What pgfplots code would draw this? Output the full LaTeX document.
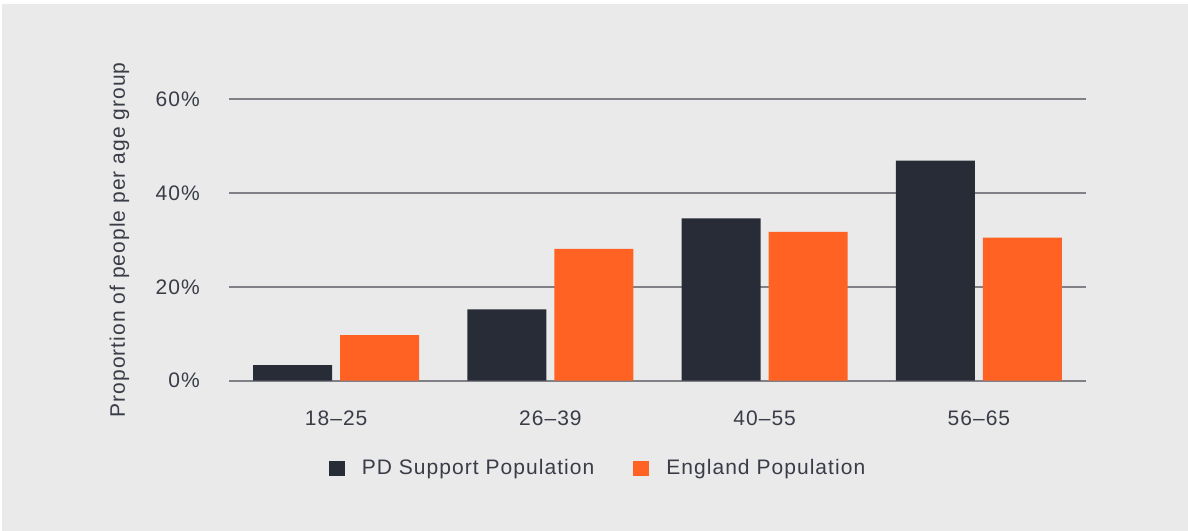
\documentclass[border=0pt]{standalone}
\usepackage{pgfplots}
\pgfplotsset{compat=1.18}
\usepackage{fontspec}
\setmainfont[LetterSpace=5]{Liberation Sans}
\definecolor{bg}{HTML}{EAEAEA}
\definecolor{pdnavy}{HTML}{282C37}
\definecolor{engorange}{HTML}{FF6222}
\definecolor{txt}{HTML}{3A3D47}
\definecolor{gridc}{HTML}{808186}

\begin{document}
\fontsize{21bp}{25bp}\selectfont
\begin{tikzpicture}[x=1bp,y=1bp]
% panel background
\fill[white] (0,0) rectangle (1188,-531);
\fill[bg] (2,-4) rectangle (1188,-531);
\begin{axis}[
  at={(229bp,-380.7bp)}, anchor=south west,
  scale only axis, width=857bp, height=281.7bp,
  ybar=8bp, bar width=79bp,
  xmin=-0.5, xmax=3.5, ymin=0, ymax=60,
  clip=false,
  axis lines=left, axis line style={draw=none},
  major tick length=0pt,
  ymajorgrids, grid style={gridc, line width=1.6bp},
  ytick={0,20,40,60}, yticklabels={0\%,20\%,40\%,60\%},
  xtick={0,1,2,3}, xticklabels={18--25,26--39,40--55,56--65},
  yticklabel style={anchor=east, inner sep=0pt, xshift=-29bp, text=txt},
  xticklabel style={anchor=north, inner sep=0pt, yshift=-30bp, text=txt},
  ylabel={Proportion of people per age group},
  y label style={at={(axis description cs:-0.1278,0.5)}, anchor=center, inner sep=0pt, text=txt},
  legend columns=2,
  legend style={at={(axis description cs:0.1162,-0.310)}, anchor=west,
    draw=none, fill=none, inner sep=0pt, text=txt,
    nodes={inner sep=0pt},
    /tikz/every odd column/.style={column sep=17bp},
    /tikz/every even column/.style={column sep=39bp}},
  legend image code/.code={\fill[#1] (0bp,-7.5bp) rectangle (16bp,7.5bp);},
]
\addplot[fill=pdnavy, draw=none] coordinates {(0,3.3) (1,15.2) (2,34.6) (3,46.9)};
\addplot[fill=engorange, draw=none] coordinates {(0,9.7) (1,28.1) (2,31.7) (3,30.5)};
\legend{PD Support Population, England Population}
\end{axis}
\end{tikzpicture}
\end{document}
